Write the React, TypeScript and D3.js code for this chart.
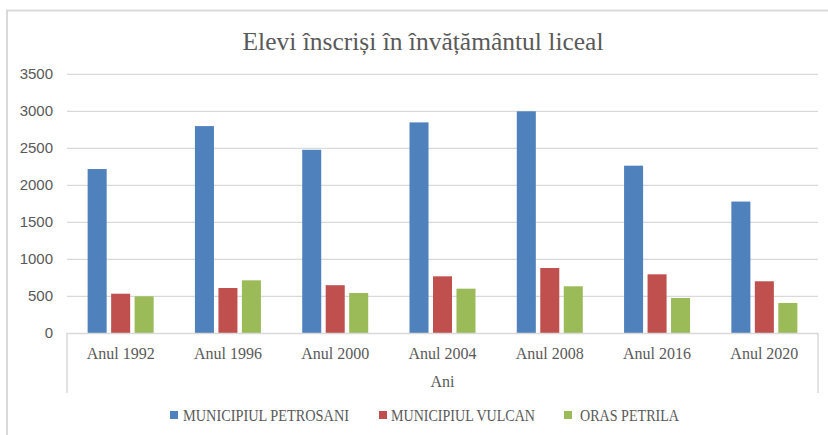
import React from "react";
import * as d3 from "d3";

const categories = ["Anul 1992", "Anul 1996", "Anul 2000", "Anul 2004", "Anul 2008", "Anul 2016", "Anul 2020"];
const seriesNames = ["MUNICIPIUL PETROSANI", "MUNICIPIUL VULCAN", "ORAS PETRILA"];
const petrosani = [2220, 2800, 2480, 2850, 3000, 2265, 1780];
const vulcan = [535, 612, 650, 770, 882, 797, 703];
const petrila = [500, 716, 545, 603, 635, 477, 410];
const seriesColors = ["#4F81BD", "#C0504D", "#9BBB59"];
const yTicks = [0, 500, 1000, 1500, 2000, 2500, 3000, 3500];
const title = "Elevi înscriși în învățământul liceal";
const axisTitle = "Ani";

const W = 828;
const H = 435;

export default function App() {
  const seriesValues = [petrosani, vulcan, petrila];
  const x = d3.scaleBand<string>().domain(categories).range([67, 818]).padding(0);
  const xs = d3.scaleBand<string>().domain(seriesNames).range([-33, 33]).paddingInner(0.19);
  const y = d3.scaleLinear().domain([0, 3500]).range([333.3, 74.3]);
  const textColor = "#595959";
  const gridColor = "#d9d9d9";
  const legendItems = [
    { sq: 170, tx: 183, len: 166 },
    { sq: 379, tx: 391, len: 144 },
    { sq: 564, tx: 580, len: 99 },
  ];
  return (
    <svg
      width={W}
      height={H}
      style={{ position: "absolute", left: 0, top: 0, background: "#fff" }}
    >
      <rect x={0} y={0} width={W} height={H} fill="#fff" />
      <path d={`M7,${H + 2}V10.5H${W + 2}`} fill="none" stroke={gridColor} strokeWidth={2} />
      <text
        x={423}
        y={50}
        textAnchor="middle"
        fontFamily="Liberation Serif"
        fontSize={26}
        fill={textColor}
        textLength={361}
        lengthAdjust="spacingAndGlyphs"
      >
        {title}
      </text>
      {yTicks.map((t) => (
        <g key={t}>
          {t > 0 && (
            <line x1={67} x2={818} y1={y(t)} y2={y(t)} stroke={gridColor} strokeWidth={1.3} />
          )}
          <text
            x={53}
            y={y(t) + 5}
            textAnchor="end"
            fontFamily="Liberation Sans"
            fontSize={15}
            fill={textColor}
          >
            {t}
          </text>
        </g>
      ))}
      {categories.map((c, i) => (
        <g key={c}>
          {seriesNames.map((s, j) => {
            const v = seriesValues[j][i];
            const bx = (x(c) as number) + x.bandwidth() / 2 + (xs(s) as number);
            return (
              <rect
                key={s}
                x={bx}
                y={y(v)}
                width={xs.bandwidth()}
                height={y(0) - y(v)}
                fill={seriesColors[j]}
              />
            );
          })}
          <text
            x={(x(c) as number) + x.bandwidth() / 2}
            y={359}
            textAnchor="middle"
            fontFamily="Liberation Serif"
            fontSize={16}
            fill={textColor}
          >
            {c}
          </text>
        </g>
      ))}
      <path
        d={`M67,393V333.5H818V393`}
        fill="none"
        stroke={gridColor}
        strokeWidth={1.5}
      />
      <text
        x={442.5}
        y={387}
        textAnchor="middle"
        fontFamily="Liberation Serif"
        fontSize={16}
        fill={textColor}
      >
        {axisTitle}
      </text>
      {seriesNames.map((s, j) => (
        <g key={s}>
          <rect x={legendItems[j].sq} y={411} width={8} height={8} fill={seriesColors[j]} />
          <text
            x={legendItems[j].tx}
            y={421}
            fontFamily="Liberation Serif"
            fontSize={17}
            fill={textColor}
            textLength={legendItems[j].len}
            lengthAdjust="spacingAndGlyphs"
          >
            {s}
          </text>
        </g>
      ))}
    </svg>
  );
}
